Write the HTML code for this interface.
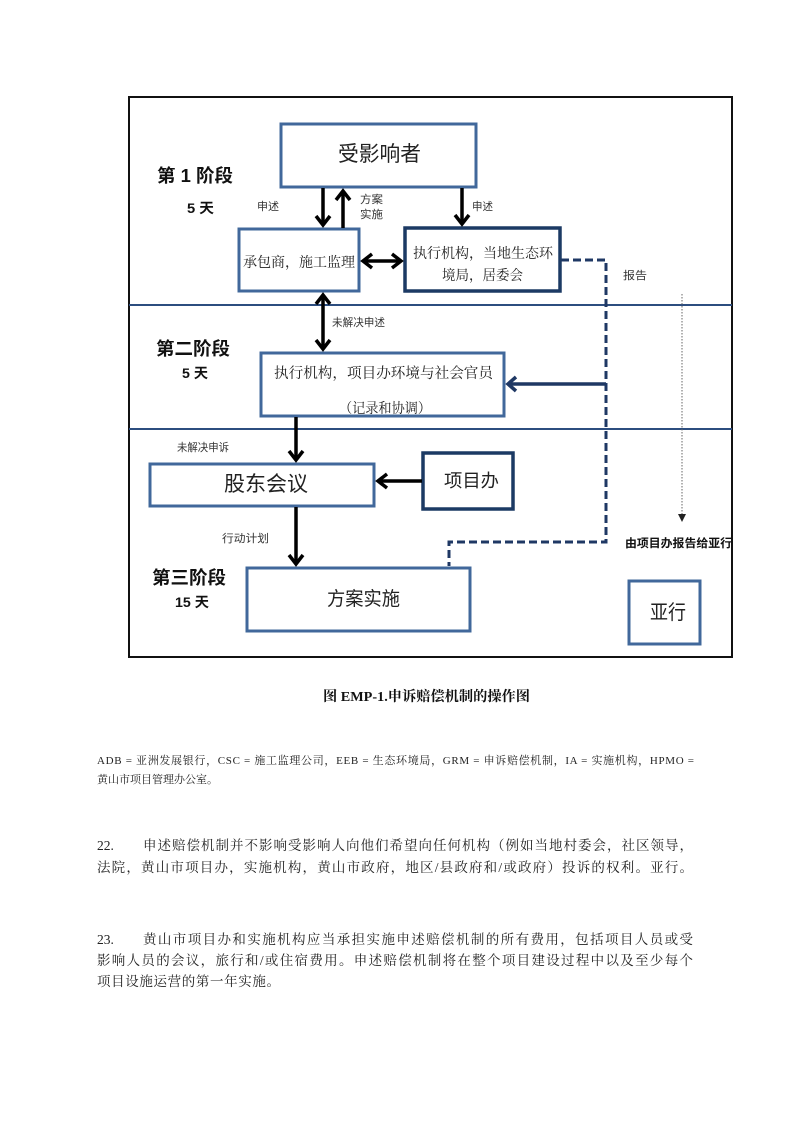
<!DOCTYPE html>
<html><head><meta charset="utf-8"><style>
html,body{margin:0;padding:0;background:#fff;}
svg{display:block;}
.sans{font-family:"Liberation Sans","Noto Sans CJK SC",sans-serif;}
.serif{font-family:"Liberation Serif","Noto Serif CJK SC",serif;}
.bold{font-weight:bold;}
</style></head><body>
<svg width="790" height="1122" viewBox="0 0 790 1122" xmlns="http://www.w3.org/2000/svg">
<rect x="0" y="0" width="790" height="1122" fill="#fff"/>
<!-- frame -->
<rect x="129" y="97" width="603" height="560" fill="none" stroke="#111" stroke-width="2"/>
<line x1="129" y1="305" x2="732" y2="305" stroke="#2c4d7f" stroke-width="2"/>
<line x1="129" y1="429" x2="732" y2="429" stroke="#2c4d7f" stroke-width="2"/>

<!-- boxes -->
<rect x="281" y="124" width="195" height="63" fill="#fff" stroke="#41689b" stroke-width="3"/>
<rect x="239" y="229" width="120" height="62" fill="#fff" stroke="#41689b" stroke-width="3"/>
<rect x="405" y="228" width="155" height="63" fill="#fff" stroke="#1c3a64" stroke-width="3.5"/>
<rect x="261" y="353" width="243" height="63" fill="#fff" stroke="#41689b" stroke-width="3"/>
<rect x="150" y="464" width="224" height="42" fill="#fff" stroke="#41689b" stroke-width="3"/>
<rect x="423" y="453" width="90" height="56" fill="#fff" stroke="#1c3a64" stroke-width="3.5"/>
<rect x="247" y="568" width="223" height="63" fill="#fff" stroke="#41689b" stroke-width="3"/>
<rect x="629" y="581" width="71" height="63" fill="#fff" stroke="#41689b" stroke-width="3"/>

<!-- dashed connector -->
<path d="M561,260 H606 V542 H449 V566" fill="none" stroke="#1f3864" stroke-width="3" stroke-dasharray="8,4"/>
<!-- solid arrow from dashed line to box 2 -->
<line x1="606" y1="384" x2="508" y2="384" stroke="#1f3864" stroke-width="3.5"/>
<polyline points="516,377 508,384 516,391" fill="none" stroke="#1f3864" stroke-width="3.5"/>

<!-- dotted arrow -->
<line x1="682" y1="294" x2="682" y2="515" stroke="#666" stroke-width="1" stroke-dasharray="1.5,1.5"/>
<polygon points="678,514 686,514 682,522" fill="#222"/>

<g stroke="#000" stroke-width="3.5" fill="none" stroke-linejoin="miter">
  <!-- down 323 -->
  <line x1="323" y1="188" x2="323" y2="225"/>
  <polyline points="316,216 323,225 330,216"/>
  <!-- up 343 -->
  <line x1="343" y1="228" x2="343" y2="191"/>
  <polyline points="336,200 343,191 350,200"/>
  <!-- down 462 -->
  <line x1="462" y1="188" x2="462" y2="224"/>
  <polyline points="455,215 462,224 469,215"/>
  <!-- double horizontal -->
  <line x1="363" y1="261" x2="401" y2="261"/>
  <polyline points="372,254 363,261 372,268"/>
  <polyline points="392,254 401,261 392,268"/>
  <!-- double vertical -->
  <line x1="323" y1="295" x2="323" y2="349"/>
  <polyline points="316,304 323,295 330,304"/>
  <polyline points="316,340 323,349 330,340"/>
  <!-- down 296 to 股东 -->
  <line x1="296" y1="417" x2="296" y2="460"/>
  <polyline points="289,451 296,460 303,451"/>
  <!-- left 项目办 -> 股东 -->
  <line x1="422" y1="481" x2="378" y2="481"/>
  <polyline points="387,474 378,481 387,488"/>
  <!-- down 296 to 方案实施 -->
  <line x1="296" y1="507" x2="296" y2="564"/>
  <polyline points="289,555 296,564 303,555"/>
</g>

<!-- box texts -->
<text class="sans" x="338" y="161" font-size="21" textLength="83" lengthAdjust="spacingAndGlyphs" fill="#222">受影响者</text>
<text class="serif" x="243" y="267" font-size="14" textLength="112" lengthAdjust="spacingAndGlyphs" fill="#222">承包商，施工监理</text>
<text class="serif" x="413" y="258" font-size="14" textLength="140" lengthAdjust="spacingAndGlyphs" fill="#222">执行机构，当地生态环</text>
<text class="serif" x="442" y="280" font-size="14" textLength="81" lengthAdjust="spacingAndGlyphs" fill="#222">境局，居委会</text>
<text class="serif" x="274" y="378" font-size="14.5" textLength="219" lengthAdjust="spacingAndGlyphs" fill="#222">执行机构，项目办环境与社会官员</text>
<text class="serif" x="339" y="413" font-size="14" textLength="92" lengthAdjust="spacingAndGlyphs" fill="#222">（记录和协调）</text>
<text class="sans" x="224" y="491" font-size="21" textLength="84" lengthAdjust="spacingAndGlyphs" fill="#222">股东会议</text>
<text class="sans" x="444" y="487" font-size="18" textLength="55" lengthAdjust="spacingAndGlyphs" fill="#222">项目办</text>
<text class="sans" x="327" y="605" font-size="19" textLength="73" lengthAdjust="spacingAndGlyphs" fill="#222">方案实施</text>
<text class="sans" x="650" y="619" font-size="20" textLength="36" lengthAdjust="spacingAndGlyphs" fill="#222">亚行</text>

<!-- stage labels -->
<text class="sans bold" x="157" y="182" font-size="18" textLength="76" lengthAdjust="spacingAndGlyphs" fill="#111">第 1 阶段</text>
<text class="sans bold" x="187" y="213" font-size="14" textLength="27" lengthAdjust="spacingAndGlyphs" fill="#111">5 天</text>
<text class="sans bold" x="156" y="355" font-size="18" textLength="74" lengthAdjust="spacingAndGlyphs" fill="#111">第二阶段</text>
<text class="sans bold" x="182" y="378" font-size="14" textLength="26" lengthAdjust="spacingAndGlyphs" fill="#111">5 天</text>
<text class="sans bold" x="152" y="584" font-size="18" textLength="74" lengthAdjust="spacingAndGlyphs" fill="#111">第三阶段</text>
<text class="sans bold" x="175" y="607" font-size="14" textLength="34" lengthAdjust="spacingAndGlyphs" fill="#111">15 天</text>

<!-- small labels -->
<g class="sans" font-size="11" fill="#333">
<text x="257" y="210" textLength="22" lengthAdjust="spacingAndGlyphs">申述</text>
<text x="360" y="203" textLength="23" lengthAdjust="spacingAndGlyphs">方案</text>
<text x="360" y="218" textLength="23" lengthAdjust="spacingAndGlyphs">实施</text>
<text x="472" y="210" textLength="21" lengthAdjust="spacingAndGlyphs">申述</text>
<text x="623" y="279" textLength="24" lengthAdjust="spacingAndGlyphs">报告</text>
<text x="332" y="326" textLength="53" lengthAdjust="spacingAndGlyphs">未解决申述</text>
<text x="177" y="451" textLength="52" lengthAdjust="spacingAndGlyphs">未解决申诉</text>
<text x="222" y="542" textLength="47" lengthAdjust="spacingAndGlyphs">行动计划</text>
</g>
<text class="sans bold" x="625" y="547" font-size="11.5" textLength="107" lengthAdjust="spacingAndGlyphs" fill="#111">由项目办报告给亚行</text>

<!-- caption -->
<text class="serif bold" x="323" y="701" font-size="14" textLength="207" lengthAdjust="spacingAndGlyphs" fill="#111">图 EMP-1.申诉赔偿机制的操作图</text>

<!-- footnote -->
<g class="serif" fill="#222" font-size="11">
<text x="97" y="764" textLength="597" lengthAdjust="spacing">ADB = 亚洲发展银行，CSC = 施工监理公司，EEB = 生态环境局，GRM = 申诉赔偿机制，IA = 实施机构，HPMO =</text>
<text x="97" y="783" textLength="121" lengthAdjust="spacing">黄山市项目管理办公室。</text>
</g>

<!-- paragraphs -->
<g class="serif" fill="#222" font-size="13.5">
<text x="97" y="850">22.</text>
<text x="143" y="850" textLength="550" lengthAdjust="spacing">申述赔偿机制并不影响受影响人向他们希望向任何机构（例如当地村委会，社区领导，</text>
<text x="97" y="872" textLength="596" lengthAdjust="spacing">法院，黄山市项目办，实施机构，黄山市政府，地区/县政府和/或政府）投诉的权利。亚行。</text>
<text x="97" y="944">23.</text>
<text x="143" y="944" textLength="550" lengthAdjust="spacing">黄山市项目办和实施机构应当承担实施申述赔偿机制的所有费用，包括项目人员或受</text>
<text x="97" y="965" textLength="596" lengthAdjust="spacing">影响人员的会议，旅行和/或住宿费用。申述赔偿机制将在整个项目建设过程中以及至少每个</text>
<text x="97" y="986" textLength="183" lengthAdjust="spacing">项目设施运营的第一年实施。</text>
</g>
</svg>
</body></html>
